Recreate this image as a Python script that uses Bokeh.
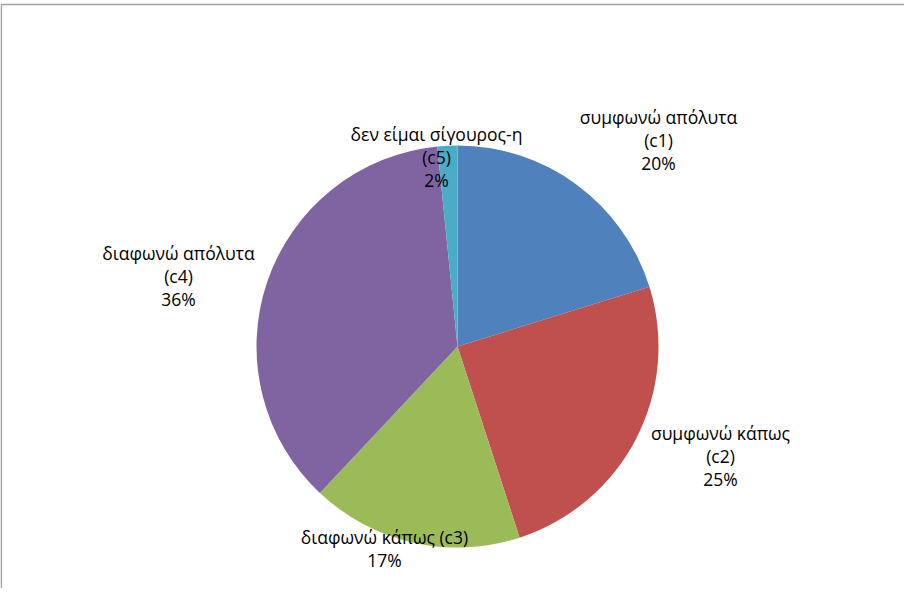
import numpy as np
from bokeh.plotting import figure
from bokeh.models import ColumnDataSource, Range1d
from bokeh.core.properties import value
from bokeh.embed import file_html
from bokeh.resources import INLINE

# ---- data ----
categories = ["c1", "c2", "c3", "c4", "c5"]
names = ["συμφωνώ απόλυτα", "συμφωνώ κάπως", "διαφωνώ κάπως", "διαφωνώ απόλυτα", "δεν είμαι σίγουρος-η"]
values = [20.2, 24.8, 17.0, 36.4, 1.6]
colors = ["#4F81BD", "#C0504D", "#9BBB59", "#8064A2", "#4BACC6"]

W, H = 904, 588
p = figure(width=W, height=H, output_backend="svg", toolbar_location=None,
           x_range=Range1d(0, W), y_range=Range1d(0, H), min_border=0)
p.axis.visible = False
p.grid.visible = False
p.outline_line_color = None
p.background_fill_color = "white"
p.border_fill_color = "white"

# chart border (only top and left visible in the window)
p.line(x=[0.8, 0.8, W], y=[0, H - 4, H - 4], line_color="#a0a0a0", line_width=1.6)

# pie geometry
cx, cy, r = 457, 242, 201
vals = np.array(values, dtype=float)
frac = vals / vals.sum()
cum = np.concatenate([[0], np.cumsum(frac)])
start = np.pi / 2 - cum[:-1] * 2 * np.pi
end = np.pi / 2 - cum[1:] * 2 * np.pi
src = ColumnDataSource(dict(start=start, end=end, color=colors))
p.wedge(x=cx, y=cy, radius=r, start_angle="start", end_angle="end", direction="clock",
        fill_color="color", line_color=None, source=src)

# labels
pct = [f"{round(v):.0f}%" for v in frac * 100]
label_lines = [
    [names[0], f"({categories[0]})", pct[0]],
    [names[1], f"({categories[1]})", pct[1]],
    [f"{names[2]} ({categories[2]})", pct[2]],
    [names[3], f"({categories[3]})", pct[3]],
    [names[4], f"({categories[4]})", pct[4]],
]
# label block centres relative to pie centre (pixels)
label_off = [(201, 207), (263, -109), (-73, -202), (-279, 71), (-21, 190)]
line_gap = 23
xs, ys, ts = [], [], []
for lines, (dx, dy) in zip(label_lines, label_off):
    n = len(lines)
    for i, t in enumerate(lines):
        xs.append(cx + dx)
        ys.append(cy + dy + ((n - 1) / 2 - i) * line_gap)
        ts.append(t)
p.text(x=xs, y=ys, text=ts, text_align="center", text_baseline="middle",
       text_font=value("Open Sans"), text_font_size="17.5px", text_color="#000000")

open("out.html", "w").write(file_html(p, INLINE))
